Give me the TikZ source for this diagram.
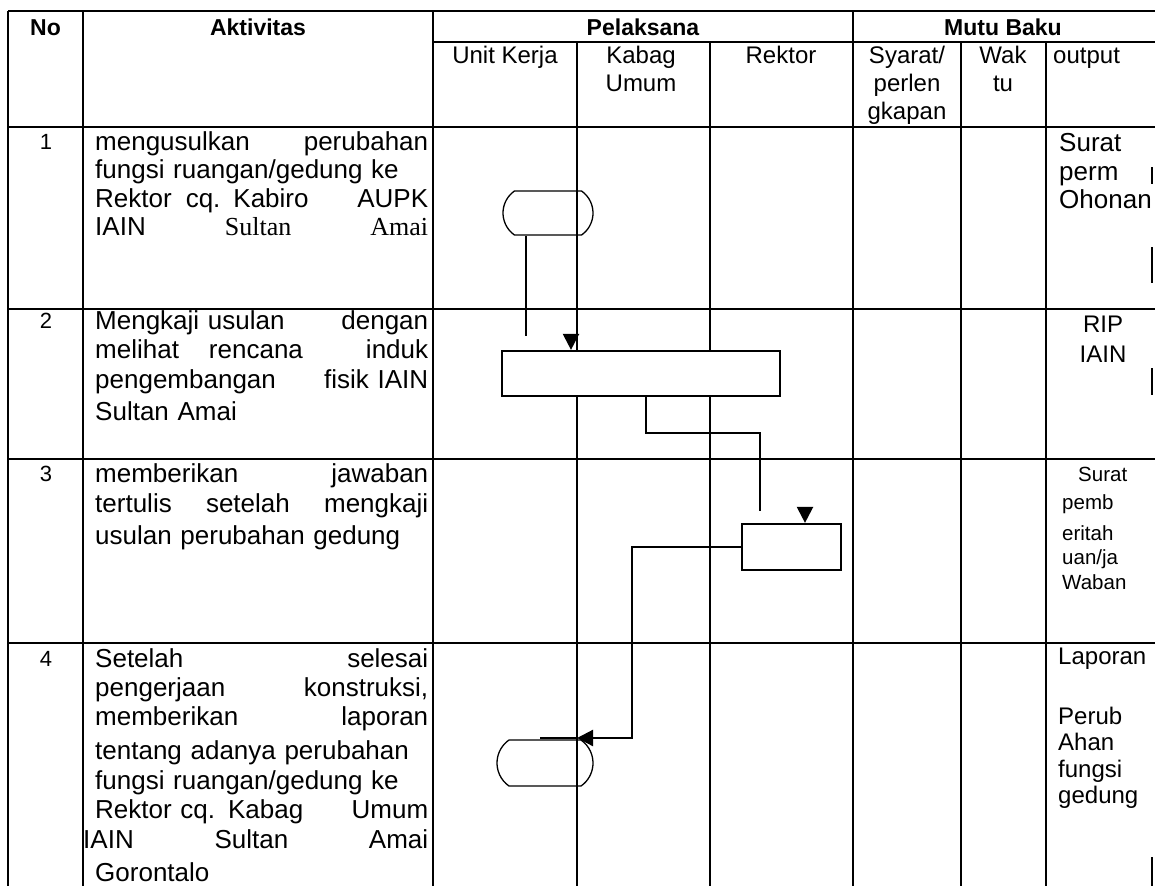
\documentclass[tikz,border=0pt]{standalone}
\usepackage{fontspec}
\setmainfont{Liberation Sans}
\newfontfamily\tnr{Liberation Serif}
\usetikzlibrary{arrows.meta,shapes.misc}
\begin{document}
\begin{tikzpicture}[x=1pt,y=-1pt,
  grid/.style={line width=2.6pt},
  hb/.style={font=\fontsize{23}{27}\selectfont\bfseries,inner sep=0pt,anchor=base},
  hs/.style={font=\fontsize{24}{28}\selectfont,inner sep=0pt,anchor=base,align=center},
  num/.style={font=\fontsize{22}{26}\selectfont,inner sep=0pt,anchor=base},
  body/.style={font=\fontsize{26}{28.5}\selectfont,inner sep=0pt,anchor=base west,text width=333pt,align=left},
  outp/.style={font=\fontsize{26}{29.5}\selectfont,inner sep=0pt,anchor=base west,text width=100pt,align=left},
  proc/.style={draw,line width=2.2pt,fill=white,inner sep=0pt},
  term/.style={draw,line width=1.3pt,rounded rectangle,rounded rectangle arc length=110,inner sep=0pt},
  conn/.style={line width=2.2pt},
  tip/.style={-{Triangle[width=16pt,length=16pt]}}
]
\useasboundingbox (0,0) rectangle (1155,886);
\fill[white] (0,0) rectangle (1155,886);
% table grid
\draw[grid] (8,11) -- (1155,11);
\draw[grid] (433,42) -- (1155,42);
\draw[grid] (8,127) -- (1155,127);
\draw[grid] (8,309) -- (1155,309);
\draw[grid] (8,459) -- (1155,459);
\draw[grid] (8,643) -- (1155,643);
\foreach \x in {8,83,433,853} {\draw[grid] (\x,11) -- (\x,886);}
\foreach \x in {577,710,961,1046} {\draw[grid] (\x,42) -- (\x,886);}
\draw[grid] (1152,167) -- (1152,184);
\draw[grid] (1152,247) -- (1152,283);
\draw[grid] (1152,368) -- (1152,395);
\draw[grid] (1152,857) -- (1152,886);
% headers
\node[hb] (hNo) at (45.5,35) {No};
\node[hb] (hAkt) at (258,35) {Aktivitas};
\node[hb] (hPel) at (643,35) {Pelaksana};
\node[hb] (hMutu) at (1003,35) {Mutu Baku};
\node[hs] (hUnit) at (505,63) {Unit Kerja};
\node[hs,text width=130pt] (hKabag) at (641,63) {Kabag\\Umum};
\node[hs] (hRektor) at (781,63) {Rektor};
\node[hs,text width=105pt] (hSyarat) at (907,63) {Syarat/\\perlen\\gkapan};
\node[hs,text width=80pt] (hWaktu) at (1003,63) {Wak\\tu};
\node[hs,anchor=base west] (hOut) at (1053,63) {output};
% numbers
\node[num] (n1) at (46,149) {1};
\node[num] (n2) at (46,328) {2};
\node[num] (n3) at (46,481) {3};
\node[num] (n4) at (46,666) {4};
% activities
\node[body] (akt1) at (95,150) {mengusulkan\hfill perubahan\\
fungsi ruangan/gedung ke\\
Rektor\hspace{14pt}cq. Kabiro\hfill AUPK\\
IAIN\hfill{\tnr Sultan}\hfill{\tnr Amai}};
\node[body,font=\fontsize{26}{29.5}\selectfont] (akt2) at (95,329) {Mengkaji usulan\hfill dengan\\
melihat\hspace{30pt}rencana\hfill induk\\
pengembangan\hfill fisik IAIN\\[3pt]
Sultan Amai};
\node[body,font=\fontsize{26}{30}\selectfont] (akt3) at (95,482) {memberikan\hfill jawaban\\
tertulis\hfill setelah\hfill mengkaji\\[2pt]
usulan perubahan gedung};
\node[body,font=\fontsize{26}{29.3}\selectfont] (akt4) at (95,667) {Setelah\hfill selesai\\
pengerjaan\hfill konstruksi,\\
memberikan\hfill laporan\\[5pt]
tentang adanya perubahan\\
fungsi ruangan/gedung ke\\
Rektor cq. Kabag\hfill Umum\\[1pt]
\hspace*{-12pt}IAIN\hfill Sultan\hfill Amai\\[3pt]
Gorontalo};
% outputs
\node[outp] (o1) at (1059,151) {Surat\\perm\\[-1.5pt]Ohonan};
\node[outp,font=\fontsize{24}{30}\selectfont,anchor=base,text width=90pt,align=center] (o2) at (1103,332) {RIP\\IAIN};
\node[outp,font=\fontsize{20.5}{24.5}\selectfont] (o3) at (1062,481) {\hspace*{16pt}Surat\\[3.5pt]pemb\\[6.5pt]eritah\\uan/ja\\Waban};
\node[outp,font=\fontsize{24}{26.5}\selectfont] (o4) at (1058,664) {Laporan\\[33.5pt]Perub\\Ahan\\fungsi\\gedung};
% flow shapes
\node[term,minimum width=90pt,minimum height=44pt] (t1) at (548,213) {};
\node[proc,minimum width=278pt,minimum height=45pt] (p2) at (641,373.5) {};
\node[proc,minimum width=99pt,minimum height=46pt] (p3) at (791.5,547) {};
\node[term,minimum width=96pt,minimum height=46pt] (t2) at (545,763) {};
% connectors
\coordinate (c1) at (526,336);
\draw[conn] (t1.south -| c1) -- (c1);
\coordinate (a1) at (571,335);
\draw[conn,tip] (a1) -- (a1 |- p2.north);
\coordinate (k1) at (760,511);
\draw[conn] ([xshift=5pt]p2.south) -- ++(0,36) -| (k1);
\coordinate (a2) at (805,508);
\draw[conn,tip] (a2) -- (a2 |- p3.north);
\coordinate (a3) at (577,738);
\draw[conn,tip] (p3.west) -- (632,547) -- (632,738) -- (a3);
\draw[conn] (a3) -- (540,738);
\end{tikzpicture}
\end{document}
